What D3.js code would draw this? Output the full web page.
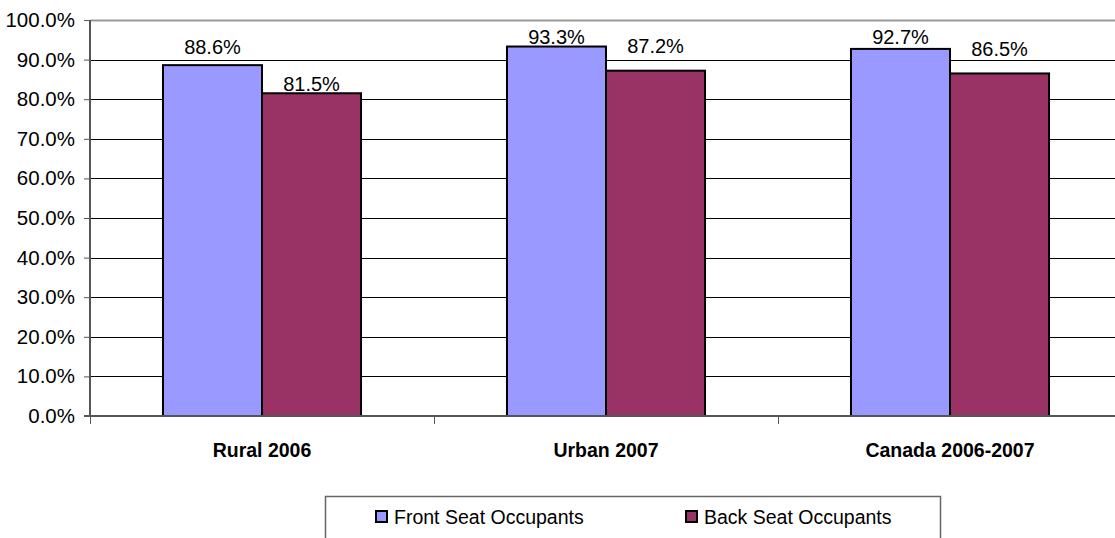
<!DOCTYPE html>
<html>
<head>
<meta charset="utf-8">
<script src="https://cdn.jsdelivr.net/npm/d3@7"></script>
<style>
	body { margin: 0; background: #fff; }
	svg { display: block; font-family: Arial, "Liberation Sans", sans-serif; }
</style>
</head>
<body>
<div id="chart"></div>
<script>
'use strict'

// Data
const categories = ['Rural 2006', 'Urban 2007', 'Canada 2006-2007'];
const seriesNames = ['Front Seat Occupants', 'Back Seat Occupants'];
const frontSeat = [88.6, 93.3, 92.7];
const backSeat = [81.5, 87.2, 86.5];
const yTicks = [0, 10, 20, 30, 40, 50, 60, 70, 80, 90, 100];

const colors = ['#9999ff', '#993366'];

const width = 1115;
const height = 538;
const margin = {top: 20, left: 90, bottom: 122};
const plotRight = 1122; // the plot runs slightly past the window edge

// small vertical nudge of each data label above its bar (Excel placement)
const labelLift = [[11, 2], [2.5, 18], [5, 17.5]];

const svg = d3.select('#chart')
	.append('svg')
	.attr('width', width)
	.attr('height', height);

const x0 = d3.scaleBand()
	.domain(categories)
	.range([margin.left, plotRight]);

const x1 = d3.scaleBand()
	.domain(seriesNames)
	.range([0, x0.bandwidth()])
	.paddingInner(0)
	.paddingOuter(0.737);

const y = d3.scaleLinear()
	.domain([0, 100])
	.range([height - margin.bottom, margin.top]);

// gridlines
svg.append('g')
	.selectAll('line')
	.data(yTicks.filter(t => t > 0 && t < 100))
	.enter()
	.append('line')
		.attr('x1', margin.left)
		.attr('x2', width)
		.attr('y1', d => Math.round(y(d)) + 0.5)
		.attr('y2', d => Math.round(y(d)) + 0.5)
		.style('stroke', '#000')
		.style('stroke-width', 1);

// top border of plot area
svg.append('line')
	.attr('x1', margin.left).attr('x2', width)
	.attr('y1', y(100) + 0.5).attr('y2', y(100) + 0.5)
	.style('stroke', '#999')
	.style('stroke-width', 2);

// bars
const rows = categories.map((c, i) => ({cat: c, i: i, values: [frontSeat[i], backSeat[i]]}));

const groups = svg.append('g')
	.selectAll('g')
	.data(rows)
	.enter()
	.append('g')
		.attr('transform', d => `translate(${x0(d.cat)},0)`);

groups.selectAll('rect')
	.data(d => d.values.map((v, j) => ({name: seriesNames[j], v: v, j: j})))
	.enter()
	.append('rect')
		.attr('x', d => x1(d.name))
		.attr('y', d => y(d.v))
		.attr('width', x1.bandwidth())
		.attr('height', d => y(0) - y(d.v))
		.attr('fill', d => colors[d.j])
		.attr('stroke', '#000')
		.attr('stroke-width', 2);

groups.selectAll('text')
	.data(d => d.values.map((v, j) => ({name: seriesNames[j], v: v, j: j, i: d.i})))
	.enter()
	.append('text')
		.attr('x', d => x1(d.name) + x1.bandwidth() / 2)
		.attr('y', d => y(d.v) - labelLift[d.i][d.j])
		.attr('text-anchor', 'middle')
		.style('font-size', '20px')
		.style('fill', '#000')
		.text(d => d.v.toFixed(1) + '%');

// y axis
const yAxis = d3.axisLeft(y)
	.tickValues(yTicks)
	.tickSize(6)
	.tickPadding(9)
	.tickFormat(d => d.toFixed(1) + '%');

const gy = svg.append('g')
	.attr('transform', `translate(${margin.left},0)`)
	.call(yAxis);
gy.select('.domain').attr('stroke', '#555').attr('stroke-width', 2).attr('d', `M0,${y(100)}V${y(0)}`);
gy.selectAll('.tick line').attr('stroke', '#555');
gy.selectAll('.tick text')
	.style('font-size', '20.5px')
	.style('font-family', 'Arial, "Liberation Sans", sans-serif')
	.attr('fill', '#000');

// x axis
const gx = svg.append('g')
	.attr('transform', `translate(0,${y(0)})`);
gx.append('line')
	.attr('x1', margin.left - 6).attr('x2', width)
	.attr('y1', 0).attr('y2', 0)
	.attr('stroke', '#555')
	.attr('stroke-width', 2);
gx.selectAll('line.cattick')
	.data(categories)
	.enter()
	.append('line')
		.attr('class', 'cattick')
		.attr('x1', d => x0(d) + 0.5)
		.attr('x2', d => x0(d) + 0.5)
		.attr('y1', 0)
		.attr('y2', 8)
		.attr('stroke', '#555');
gx.selectAll('text')
	.data(categories)
	.enter()
	.append('text')
		.attr('x', d => x0(d) + x0.bandwidth() / 2)
		.attr('y', 41)
		.attr('text-anchor', 'middle')
		.style('font-size', '19.5px')
		.style('font-weight', 'bold')
		.text(d => d);

// legend
const legend = svg.append('g')
	.attr('transform', 'translate(325,496)');
legend.append('rect')
	.attr('x', 0.5).attr('y', 0.5)
	.attr('width', 615).attr('height', 60)
	.attr('fill', '#fff')
	.attr('stroke', '#666')
	.attr('stroke-width', 1.5);

const legendX = [51, 361];
const items = legend.selectAll('g.item')
	.data(seriesNames)
	.enter()
	.append('g')
		.attr('class', 'item')
		.attr('transform', (d, i) => `translate(${legendX[i]},0)`);
items.append('rect')
	.attr('x', 0).attr('y', 15)
	.attr('width', 11).attr('height', 11)
	.attr('fill', (d, i) => colors[i])
	.attr('stroke', '#000')
	.attr('stroke-width', 2);
items.append('text')
	.attr('x', 18)
	.attr('y', 28)
	.style('font-size', '19.5px')
	.text(d => d);
</script>
</body>
</html>
